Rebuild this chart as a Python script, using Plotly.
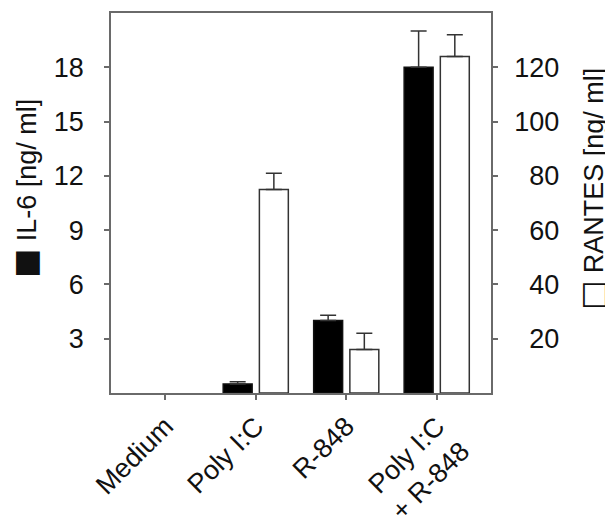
import plotly.graph_objects as go

categories = ["Medium", "Poly I:C", "R-848", "Poly I:C<br>+ R-848"]
il6_values = [0.0, 0.5, 4.0, 18.0]
il6_errors = [0.0, 0.12, 0.3, 2.0]
rantes_values = [0.0, 75.0, 16.0, 124.0]
rantes_errors = [0.0, 6.0, 6.0, 8.0]
il6_ticks = [3, 6, 9, 12, 15, 18]
rantes_ticks = [20, 40, 60, 80, 100, 120]

FONT = "Liberation Sans, Arial, Helvetica, sans-serif"
AX = "#6a6a6a"

# page body adds an 8px margin; the figure is sized to fit inside the window
W, H = 605, 510
L, T = 103, 5
PW, PH = 380, 380
R, B = W - L - PW, H - T - PH

fig = go.Figure()
for vals, errs, axis, off, fill, edge in [
    (il6_values, il6_errors, "y", -0.36, "#000000", "#111111"),
    (rantes_values, rantes_errors, "y2", 0.04, "#ffffff", "#333333"),
]:
    shown = [v > 0 for v in vals]
    fig.add_trace(go.Bar(
        x=[c for c, s in zip(categories, shown) if s],
        y=[v for v, s in zip(vals, shown) if s],
        yaxis=axis, width=0.32, offset=off,
        marker=dict(color=fill, line=dict(color=edge, width=1.5)),
        error_y=dict(type="data", array=[e for e, s in zip(errs, shown) if s],
                     arrayminus=[0] * sum(shown), symmetric=False,
                     color="#333333", thickness=1.5, width=8),
        showlegend=False,
    ))

rantes_text = [("\u00a0\u00a0" if len(str(t)) < 3 else "") + str(t) for t in rantes_ticks]

fig.update_layout(
    width=W, height=H,
    margin=dict(l=L, r=R, t=T, b=B, autoexpand=False),
    paper_bgcolor="white", plot_bgcolor="white",
    barmode="overlay",
    font=dict(family=FONT, size=27, color="#111111"),
    xaxis=dict(
        type="category", categoryorder="array", categoryarray=categories,
        range=[-0.6, 3.6], automargin=False,
        showline=True, linecolor=AX, linewidth=1.5, mirror=True,
        ticks="outside", ticklen=5, tickcolor=AX, tickwidth=1.5,
        tickangle=-45, showgrid=False, zeroline=False, ticklabelstandoff=0,
    ),
    yaxis=dict(
        range=[0, 21], tickvals=il6_ticks, automargin=False,
        showline=True, linecolor=AX, linewidth=1.5,
        ticks="outside", ticklen=5, tickcolor=AX, tickwidth=1.5,
        showgrid=False, zeroline=False, ticklabelstandoff=15,
    ),
    yaxis2=dict(
        range=[0, 140], tickvals=rantes_ticks, ticktext=rantes_text, automargin=False,
        overlaying="y", side="right",
        showline=True, linecolor=AX, linewidth=1.5,
        ticks="outside", ticklen=5, tickcolor=AX, tickwidth=1.5,
        showgrid=False, zeroline=False, ticklabelstandoff=11,
    ),
    annotations=[
        dict(text='<span style="font-family:DejaVu Sans;font-size:31px">■</span> IL-6 [ng/ ml]',
             textangle=-90, xref="paper", yref="paper",
             x=(17 - L) / PW, y=(T + PH - 181) / PH, xanchor="center", yanchor="middle",
             showarrow=False, font=dict(size=27, family=FONT, color="#111111")),
        dict(text='<span style="font-family:DejaVu Sans;font-size:31px">□</span> RANTES [ng/ ml]',
             textangle=-90, xref="paper", yref="paper",
             x=(584 - L) / PW, y=(T + PH - 181) / PH, xanchor="center", yanchor="middle",
             showarrow=False, font=dict(size=27, family=FONT, color="#111111")),
    ],
)

fig.write_html("out.html")
